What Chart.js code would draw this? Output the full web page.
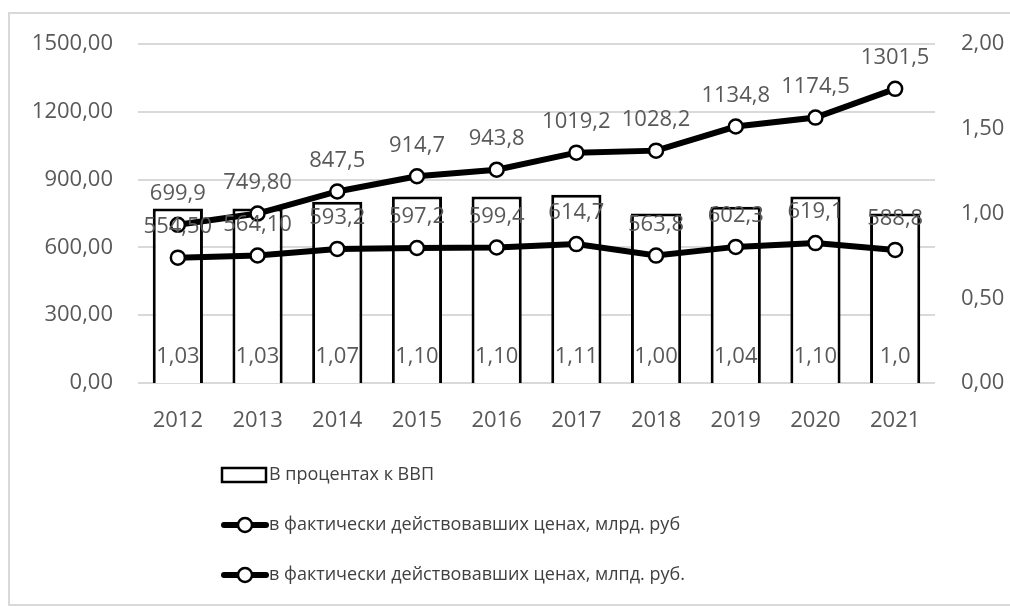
<!DOCTYPE html>
<html>
<head>
<meta charset="utf-8">
<script src="https://cdn.jsdelivr.net/npm/chart.js@4.4.1/dist/chart.umd.min.js"></script>
<style>
  html, body { margin: 0; padding: 0; background: #fff; }
  #box { width: 1010px; height: 606px; }
</style>
</head>
<body>
<div id="box"><canvas id="myChart" width="1010" height="606"></canvas></div>
<script>
let years = ['2012', '2013', '2014', '2015', '2016', '2017', '2018', '2019', '2020', '2021'];

// доля в ВВП, % (правая ось)
let gdpShare = [1.03, 1.03, 1.07, 1.10, 1.10, 1.11, 1.00, 1.04, 1.10, 1.0];
let gdpShareDigits = [2, 2, 2, 2, 2, 2, 2, 2, 2, 1];

// млрд. руб (левая ось)
let pricesUpper = [699.9, 749.8, 847.5, 914.7, 943.8, 1019.2, 1028.2, 1134.8, 1174.5, 1301.5];
let pricesUpperDigits = [1, 2, 1, 1, 1, 1, 1, 1, 1, 1];
let pricesLower = [554.5, 564.1, 593.2, 597.2, 599.4, 614.7, 563.8, 602.3, 619.1, 588.8];
let pricesLowerDigits = [2, 2, 1, 1, 1, 1, 1, 1, 1, 1];

let seriesNames = [
    'В процентах к ВВП',
    'в фактически действовавших ценах, млрд. руб',
    'в фактически действовавших ценах, млпд. руб.'
];

let leftAxis = { min: 0, max: 1500, step: 300 };
let rightAxis = { min: 0, max: 2, step: 0.5 };

const FONT = '"Open Sans", "Liberation Sans", sans-serif';
const GREY_TEXT = '#595959';
const GRID = '#d9d9d9';

function fmt(v, digits) {
    return v.toFixed(digits).replace('.', ',');
}

// frame and white background
const frame = {
    id: 'frame',
    beforeDraw(chart) {
        let c = chart.ctx;
        c.save();
        c.fillStyle = '#fff';
        c.fillRect(0, 0, chart.width, chart.height);
        c.strokeStyle = GRID;
        c.lineWidth = 2;
        c.strokeRect(9, 13, chart.width + 10, chart.height - 14);
        c.restore();
    }
};

// value labels: above line points, near the base of the bars
const valueLabels = {
    id: 'valueLabels',
    afterDatasetsDraw(chart) {
        let c = chart.ctx;
        c.save();
        c.font = '22px ' + FONT;
        c.fillStyle = GREY_TEXT;
        c.textAlign = 'center';
        c.textBaseline = 'middle';
        chart.data.datasets.forEach((ds, i) => {
            let meta = chart.getDatasetMeta(i);
            meta.data.forEach((el, j) => {
                let txt = fmt(ds.data[j], ds.digits[j]);
                if (ds.type === 'bar') {
                    c.fillText(txt, el.x, el.base - 26);
                } else {
                    c.fillText(txt, el.x, el.y - 31);
                }
            });
        });
        c.restore();
    }
};

// vertical legend under the plot
const stackedLegend = {
    id: 'stackedLegend',
    afterDraw(chart) {
        let c = chart.ctx;
        let x0 = 222, rows = [475, 525, 575];
        c.save();
        chart.data.datasets.forEach((ds, i) => {
            let y = rows[i];
            if (ds.type === 'bar') {
                c.fillStyle = '#fff';
                c.strokeStyle = '#000';
                c.lineWidth = 2.5;
                c.fillRect(x0, y - 7, 44, 14);
                c.strokeRect(x0, y - 7, 44, 14);
            } else {
                c.strokeStyle = '#000';
                c.lineWidth = 6;
                c.lineCap = 'round';
                c.beginPath();
                c.moveTo(x0 + 2, y);
                c.lineTo(x0 + 44, y);
                c.stroke();
                c.beginPath();
                c.arc(x0 + 23, y, 7, 0, Math.PI * 2);
                c.fillStyle = '#fff';
                c.fill();
                c.lineWidth = 2.5;
                c.stroke();
            }
            c.fillStyle = '#404040';
            c.font = '18px ' + FONT;
            c.textAlign = 'left';
            c.textBaseline = 'middle';
            c.fillText(ds.label, x0 + 47, y);
        });
        c.restore();
    }
};

let ctx = document.getElementById('myChart').getContext('2d');

let myChart = new Chart(ctx, {
    data: {
        labels: years,
        datasets: [{
            type: 'bar',
            label: seriesNames[0],
            data: gdpShare,
            digits: gdpShareDigits,
            yAxisID: 'y2',
            backgroundColor: '#fff',
            borderColor: '#000',
            borderWidth: 3,
            barPercentage: 0.63,
            categoryPercentage: 1,
            order: 3
        }, {
            type: 'line',
            label: seriesNames[1],
            data: pricesUpper,
            digits: pricesUpperDigits,
            yAxisID: 'y',
            borderColor: '#000',
            borderWidth: 6,
            pointRadius: 7,
            pointBorderWidth: 2.5,
            pointBackgroundColor: '#fff',
            pointBorderColor: '#000',
            tension: 0,
            order: 1
        }, {
            type: 'line',
            label: seriesNames[2],
            data: pricesLower,
            digits: pricesLowerDigits,
            yAxisID: 'y',
            borderColor: '#000',
            borderWidth: 6,
            pointRadius: 7,
            pointBorderWidth: 2.5,
            pointBackgroundColor: '#fff',
            pointBorderColor: '#000',
            tension: 0,
            order: 2
        }]
    },
    options: {
        responsive: false,
        animation: false,
        devicePixelRatio: 1,
        layout: { padding: { left: 0, right: 0, top: 44, bottom: 163 } },
        plugins: {
            legend: { display: false },
            tooltip: { enabled: false }
        },
        scales: {
            x: {
                grid: { display: false },
                border: { display: false },
                ticks: { color: GREY_TEXT, font: { family: FONT, size: 22 }, padding: 17, maxRotation: 0 },
                afterFit(s) { s.height = 60; }
            },
            y: {
                position: 'left',
                min: leftAxis.min,
                max: leftAxis.max,
                grid: { color: GRID, lineWidth: 2, drawTicks: false },
                border: { display: false },
                ticks: {
                    stepSize: leftAxis.step,
                    color: GREY_TEXT,
                    font: { family: FONT, size: 22 },
                    padding: 25,
                    callback: v => fmt(v, 2)
                },
                afterFit(s) { s.width = 138; }
            },
            y2: {
                position: 'right',
                min: rightAxis.min,
                max: rightAxis.max,
                grid: { display: false, drawTicks: false },
                border: { display: false },
                ticks: {
                    stepSize: rightAxis.step,
                    color: GREY_TEXT,
                    font: { family: FONT, size: 22 },
                    padding: 26,
                    callback: v => fmt(v, 2)
                },
                afterFit(s) { s.width = 75; }
            }
        }
    },
    plugins: [frame, valueLabels, stackedLegend]
});
</script>
</body>
</html>
